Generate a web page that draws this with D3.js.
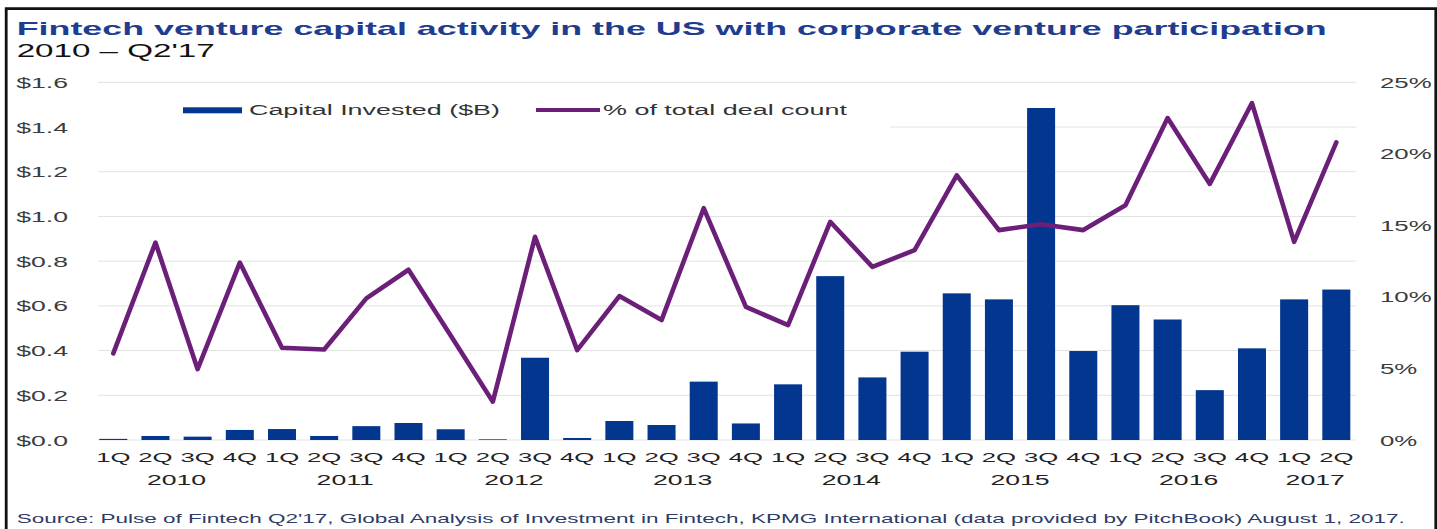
<!DOCTYPE html>
<html>
<head>
<meta charset="utf-8">
<script src="https://cdn.jsdelivr.net/npm/d3@7"></script>
<style>
  html, body { margin: 0; padding: 0; background: #fff; }
  svg { display: block; }
  text { font-family: "Liberation Sans", Arial, Helvetica, sans-serif; }
</style>
</head>
<body>
<svg id="chart" width="1437" height="529"></svg>
<script>
// ---- data ----
const categories = [
  "1Q 2010", "2Q 2010", "3Q 2010", "4Q 2010",
  "1Q 2011", "2Q 2011", "3Q 2011", "4Q 2011",
  "1Q 2012", "2Q 2012", "3Q 2012", "4Q 2012",
  "1Q 2013", "2Q 2013", "3Q 2013", "4Q 2013",
  "1Q 2014", "2Q 2014", "3Q 2014", "4Q 2014",
  "1Q 2015", "2Q 2015", "3Q 2015", "4Q 2015",
  "1Q 2016", "2Q 2016", "3Q 2016", "4Q 2016",
  "1Q 2017", "2Q 2017"
];
const yearLabels = ["2010", "2011", "2012", "2013", "2014", "2015", "2016", "2017"];

// Capital invested, $B
const capitalInvested = [
  0.005, 0.018, 0.015, 0.045,
  0.049, 0.018, 0.062, 0.076,
  0.048, 0.003, 0.368, 0.009,
  0.085, 0.067, 0.261, 0.074,
  0.249, 0.733, 0.280, 0.395,
  0.656, 0.629, 1.485, 0.398,
  0.603, 0.539, 0.223, 0.410,
  0.629, 0.673
];
// Corporate participation, % of total deal count
const dealCountPct = [
  6.05, 13.8, 4.95, 12.4,
  6.45, 6.33, 9.9, 11.9,
  7.3, 2.68, 14.2, 6.28,
  10.06, 8.38, 16.2, 9.3,
  8.03, 15.25, 12.1, 13.27,
  18.5, 14.67, 15.08, 14.67,
  16.4, 22.5, 17.9, 23.55,
  13.85, 20.8
];

const leftTickValues = [0, 0.2, 0.4, 0.6, 0.8, 1.0, 1.2, 1.4, 1.6];
const leftTickLabels = ["$0.0", "$0.2", "$0.4", "$0.6", "$0.8", "$1.0", "$1.2", "$1.4", "$1.6"];
const rightTickValues = [0, 5, 10, 15, 20, 25];
const rightTickLabels = ["0%", "5%", "10%", "15%", "20%", "25%"];

const titleText = "Fintech venture capital activity in the US with corporate venture participation";
const subtitleText = "2010 \u2013 Q2'17";
const sourceText = "Source: Pulse of Fintech Q2'17, Global Analysis of Investment in Fintech, KPMG International (data provided by PitchBook) August 1, 2017.";
const legendBarLabel = "Capital Invested ($B)";
const legendLineLabel = "% of total deal count";

// ---- styling ----
const BAR_COLOR = "#03368f";
const LINE_COLOR = "#6c1f79";
const TITLE_COLOR = "#1f3d8f";
const GRID_COLOR = "#e2e2e2";
const WIDE = 1.9; // horizontal stretch of the lettering

const svg = d3.select("#chart");

// stretch a text selection horizontally by factor k (or to a fixed width)
function widen(sel, k, fixed) {
  sel.each(function () {
    const w = this.getComputedTextLength();
    d3.select(this)
      .attr("textLength", fixed != null ? fixed : w * k)
      .attr("lengthAdjust", "spacingAndGlyphs");
  });
}

// ---- scales ----
const x = d3.scaleBand()
  .domain(categories)
  .range([92.2, 1357.4])
  .paddingInner(0.336)
  .paddingOuter(0.168);
const yL = d3.scaleLinear().domain([0, 1.6]).range([440, 82.3]);
const yR = d3.scaleLinear().domain([0, 25]).range([440, 82.3]);
const cx = c => x(c) + x.bandwidth() / 2;

// ---- frame ----
svg.append("path")
  .attr("d", "M6.2,529 V8.7 H1435.8 V529")
  .attr("fill", "none")
  .attr("stroke", "#111")
  .attr("stroke-width", 2.8);

// ---- gridlines ----
svg.append("g")
  .selectAll("line")
  .data(leftTickValues)
  .join("line")
  .attr("x1", 98).attr("x2", 1356)
  .attr("y1", d => yL(d)).attr("y2", d => yL(d))
  .attr("stroke", GRID_COLOR)
  .attr("stroke-width", 1);

// legend backdrop
svg.append("rect")
  .attr("x", 92).attr("y", 96)
  .attr("width", 798).attr("height", 44)
  .attr("fill", "#fff");

// ---- bars ----
svg.append("g")
  .selectAll("rect")
  .data(categories)
  .join("rect")
  .attr("x", d => x(d))
  .attr("width", x.bandwidth())
  .attr("y", (d, i) => yL(capitalInvested[i]))
  .attr("height", (d, i) => yL(0) - yL(capitalInvested[i]))
  .attr("fill", BAR_COLOR);

// ---- line ----
const line = d3.line()
  .x(d => cx(d.c))
  .y(d => yR(d.v));
svg.append("path")
  .datum(categories.map((c, i) => ({ c, v: dealCountPct[i] })))
  .attr("d", line)
  .attr("fill", "none")
  .attr("stroke", LINE_COLOR)
  .attr("stroke-width", 4.6)
  .attr("stroke-linejoin", "round")
  .attr("stroke-linecap", "round");

// ---- axes ----
const leftAxis = svg.append("g")
  .attr("transform", "translate(68,0)")
  .call(d3.axisLeft(yL)
    .tickValues(leftTickValues)
    .tickFormat((d, i) => leftTickLabels[i])
    .tickSize(0).tickPadding(0));
leftAxis.attr("font-family", null);
leftAxis.select(".domain").remove();
leftAxis.selectAll("text")
  .attr("x", 0).attr("dy", "0.36em")
  .attr("font-size", 14).attr("fill", "#3c3c3c")
  .call(widen, WIDE);

const rightAxis = svg.append("g")
  .attr("transform", "translate(1380,0)")
  .call(d3.axisRight(yR)
    .tickValues(rightTickValues)
    .tickFormat((d, i) => rightTickLabels[i])
    .tickSize(0).tickPadding(0));
rightAxis.attr("font-family", null);
rightAxis.select(".domain").remove();
rightAxis.selectAll("text")
  .attr("x", 0).attr("dy", "0.36em")
  .attr("font-size", 14).attr("fill", "#3c3c3c")
  .call(widen, WIDE * 0.97);

const bottomAxis = svg.append("g")
  .attr("transform", "translate(0,440)")
  .call(d3.axisBottom(x)
    .tickFormat(d => d.split(" ")[0])
    .tickSize(0).tickPadding(0));
bottomAxis.attr("font-family", null);
bottomAxis.select(".domain").remove();
bottomAxis.selectAll("text")
  .attr("y", 22.3).attr("dy", null)
  .attr("font-size", 13.5).attr("fill", "#222")
  .call(widen, WIDE);

// year labels centred under each year's quarters
svg.append("g")
  .selectAll("text")
  .data(yearLabels)
  .join("text")
  .attr("x", yr => {
    const cs = categories.filter(c => c.endsWith(yr));
    return (cx(cs[0]) + cx(cs[cs.length - 1])) / 2;
  })
  .attr("y", 485)
  .attr("text-anchor", "middle")
  .attr("font-size", 14)
  .attr("fill", "#222")
  .text(d => d)
  .call(widen, WIDE);

// ---- legend ----
const legend = svg.append("g");
legend.append("rect")
  .attr("x", 183).attr("y", 107.3)
  .attr("width", 59).attr("height", 6)
  .attr("fill", BAR_COLOR);
legend.append("text")
  .attr("x", 249).attr("y", 115)
  .attr("font-size", 14).attr("fill", "#333")
  .text(legendBarLabel)
  .call(widen, null, 251);
legend.append("line")
  .attr("x1", 536).attr("x2", 600)
  .attr("y1", 110).attr("y2", 110)
  .attr("stroke", LINE_COLOR).attr("stroke-width", 4);
legend.append("text")
  .attr("x", 603).attr("y", 115)
  .attr("font-size", 14).attr("fill", "#333")
  .text(legendLineLabel)
  .call(widen, null, 244);

// ---- titles ----
svg.append("text")
  .attr("x", 16.7).attr("y", 35)
  .attr("font-size", 18.6).attr("font-weight", "bold")
  .attr("fill", TITLE_COLOR)
  .text(titleText)
  .call(widen, null, 1310);
svg.append("text")
  .attr("x", 16.7).attr("y", 56.7)
  .attr("font-size", 18.6)
  .attr("fill", "#111")
  .text(subtitleText)
  .call(widen, null, 198);

// ---- source note ----
svg.append("text")
  .attr("x", 16.7).attr("y", 522.5)
  .attr("font-size", 13)
  .attr("fill", "#2d3b66")
  .text(sourceText)
  .call(widen, null, 1388);
</script>
</body>
</html>
